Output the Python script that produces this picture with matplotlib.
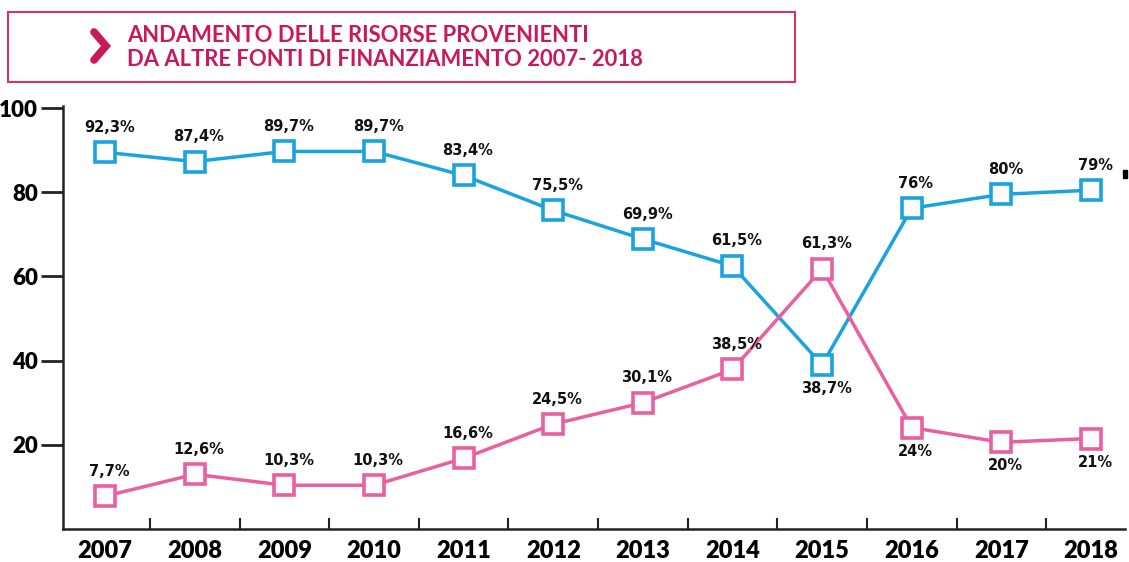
import matplotlib
matplotlib.use("Agg")
import matplotlib.pyplot as plt
from matplotlib.patches import Rectangle
from matplotlib.lines import Line2D

years = ["2007", "2008", "2009", "2010", "2011", "2012", "2013", "2014", "2015", "2016", "2017", "2018"]
blue_values = [89.5, 87.3, 89.7, 89.7, 84.0, 75.7, 68.9, 62.5, 39.0, 76.2, 79.5, 80.5]
blue_labels = ["92,3%", "87,4%", "89,7%", "89,7%", "83,4%", "75,5%", "69,9%", "61,5%", "38,7%", "76%", "80%", "79%"]
pink_values = [7.8, 13.0, 10.4, 10.4, 16.8, 24.9, 30.0, 37.9, 61.8, 24.1, 20.6, 21.5]
pink_labels = ["7,7%", "12,6%", "10,3%", "10,3%", "16,6%", "24,5%", "30,1%", "38,5%", "61,3%", "24%", "20%", "21%"]
yticks = [20, 40, 60, 80, 100]
title_lines = ["ANDAMENTO DELLE RISORSE PROVENIENTI", "DA ALTRE FONTI DI FINANZIAMENTO 2007- 2018"]

BLUE = "#1aa3de"
PINK = "#e8609f"
TITLE_C = "#c9195b"
BOX_C = "#d6336e"
FONT = "Lato"
LFONT = "DejaVu Sans"

W, H = 1129, 562
fig = plt.figure(figsize=(W / 100, H / 100), dpi=100)
ax = fig.add_axes([63 / W, 1 - 529 / H, (1125 - 63) / W, (529 - 106) / H])

x = list(range(len(years)))
for vals, col in [(blue_values, BLUE), (pink_values, PINK)]:
    ax.plot(x, vals, color=col, lw=2.5, marker="s", markersize=15,
            markerfacecolor="#fdfbfd", markeredgecolor=col, markeredgewidth=2.6,
            zorder=3, clip_on=False)

blue_below = {"2015"}
pink_below = {"2016", "2017", "2018"}
for vals, labs, below_set in [(blue_values, blue_labels, blue_below), (pink_values, pink_labels, pink_below)]:
    for i, (v, lab) in enumerate(zip(vals, labs)):
        below = years[i] in below_set
        ax.annotate(lab, (i, v), xytext=(3, -17 if below else 18), textcoords="offset points",
                    ha="center", va="center", fontsize=10.5, fontweight="bold", family=LFONT,
                    color="#111111")

ax.set_xlim(-0.47, 11.38)
ax.set_ylim(0, 100.5)
ax.set_xticks(x)
ax.set_xticklabels(years, fontsize=17, fontweight="heavy", family=FONT)
ax.set_xticks([i + 0.5 for i in range(11)], minor=True)
ax.tick_params(axis="x", which="major", length=0, pad=8)
ax.tick_params(axis="x", which="minor", direction="in", length=8, width=1.5, color="#222222")
ax.set_yticks(yticks)
ax.set_yticklabels([str(t) for t in yticks], fontsize=16, fontweight="heavy", family=FONT)
ax.tick_params(axis="y", direction="out", length=16, width=2, color="#222222", pad=2)
for s in ["top", "right"]:
    ax.spines[s].set_visible(False)
for s in ["left", "bottom"]:
    ax.spines[s].set_linewidth(1.8)
    ax.spines[s].set_color("#222222")

# title box
fig.patches.append(Rectangle((8 / W, 1 - 82 / H), (795 - 8) / W, (82 - 12) / H,
                             transform=fig.transFigure, fill=False, edgecolor=BOX_C, lw=1.5))
fig.lines.append(Line2D([94 / W, 106 / W, 94 / W], [1 - 32 / H, 1 - 46 / H, 1 - 60 / H],
                        transform=fig.transFigure, color=TITLE_C, lw=5.5,
                        solid_capstyle="round", solid_joinstyle="miter"))
fig.text(127 / W, 1 - 35 / H, title_lines[0], fontsize=15.8, fontweight="bold", family=FONT,
         color=TITLE_C, va="center", ha="left")
fig.text(127 / W, 1 - 59 / H, title_lines[1], fontsize=15.8, fontweight="bold", family=FONT,
         color=TITLE_C, va="center", ha="left")

# small stray mark at right
fig.patches.append(Rectangle((1123 / W, 1 - 178 / H), 4 / W, 8 / H, transform=fig.transFigure,
                             color="black"))

fig.savefig("out.png", dpi=100)
